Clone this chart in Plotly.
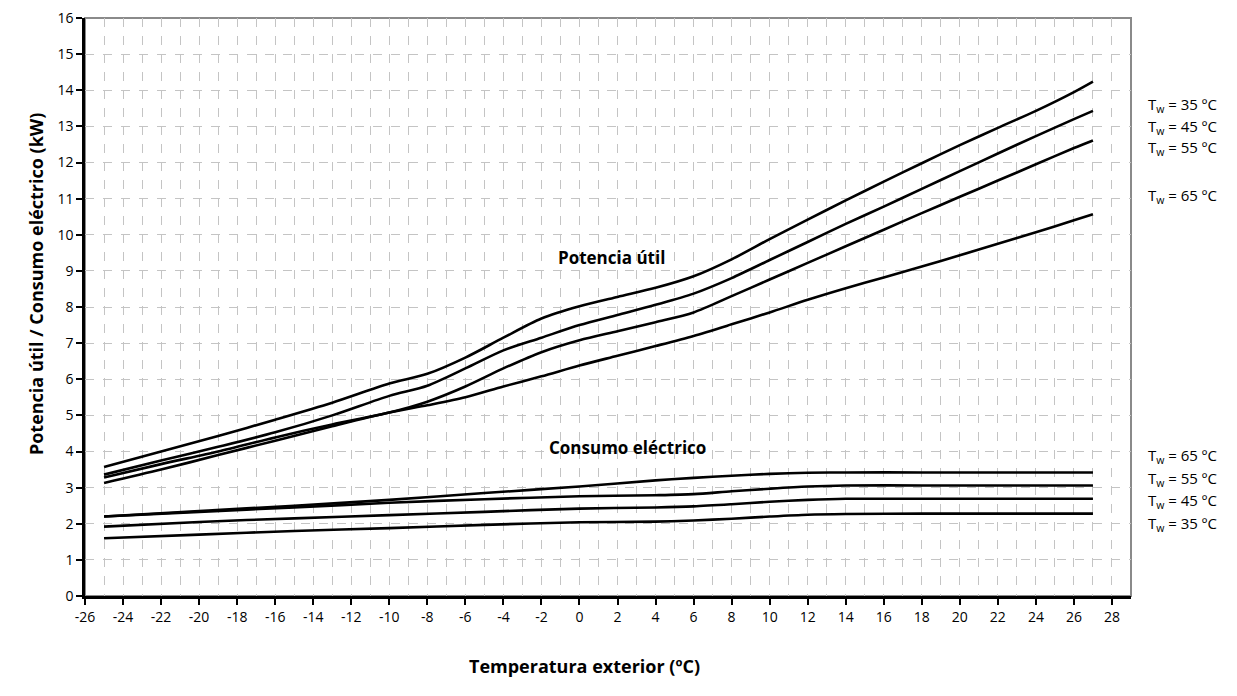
import plotly.graph_objects as go

# ---- data ----
x_pot = [-25, -22, -19, -16, -13, -10, -8, -6, -4, -2, 0, 2, 4, 6, 8, 10, 12, 14, 16, 18, 20, 22, 24, 26, 27]
pot_35 = [3.57, 4.0, 4.43, 4.88, 5.35, 5.88, 6.15, 6.6, 7.15, 7.68, 8.02, 8.28, 8.53, 8.85, 9.32, 9.88, 10.42, 10.95, 11.47, 11.98, 12.48, 12.96, 13.43, 13.95, 14.24]
pot_45 = [3.36, 3.75, 4.13, 4.53, 5.0, 5.54, 5.82, 6.3, 6.8, 7.15, 7.5, 7.78, 8.06, 8.37, 8.8, 9.3, 9.8, 10.3, 10.78, 11.27, 11.76, 12.25, 12.73, 13.2, 13.43]
pot_55 = [3.28, 3.65, 4.0, 4.39, 4.75, 5.08, 5.38, 5.8, 6.3, 6.75, 7.08, 7.33, 7.58, 7.85, 8.3, 8.76, 9.22, 9.68, 10.14, 10.6, 11.05, 11.5, 11.95, 12.4, 12.61]
pot_65 = [3.13, 3.5, 3.9, 4.3, 4.7, 5.08, 5.28, 5.5, 5.8, 6.08, 6.38, 6.65, 6.92, 7.2, 7.52, 7.85, 8.2, 8.52, 8.82, 9.12, 9.43, 9.75, 10.07, 10.4, 10.57]

x_cons = [-25, -20, -15, -10, -5, 0, 4, 6, 8, 10, 12, 14, 18, 22, 27]
cons_65 = [2.2, 2.35, 2.5, 2.66, 2.85, 3.03, 3.2, 3.27, 3.33, 3.38, 3.41, 3.42, 3.42, 3.42, 3.42]
cons_55 = [2.2, 2.33, 2.45, 2.58, 2.68, 2.76, 2.79, 2.82, 2.9, 2.97, 3.03, 3.06, 3.06, 3.06, 3.06]
cons_45 = [1.92, 2.05, 2.15, 2.24, 2.33, 2.42, 2.45, 2.48, 2.54, 2.61, 2.66, 2.69, 2.69, 2.69, 2.69]
cons_35 = [1.6, 1.7, 1.8, 1.88, 1.97, 2.04, 2.06, 2.09, 2.14, 2.2, 2.25, 2.27, 2.28, 2.28, 2.28]

pot_labels = ["T<sub>w</sub> = 35 ºC", "T<sub>w</sub> = 45 ºC", "T<sub>w</sub> = 55 ºC", "T<sub>w</sub> = 65 ºC"]
pot_label_y = [13.6, 12.97, 12.4, 11.07]
cons_labels = ["T<sub>w</sub> = 65 ºC", "T<sub>w</sub> = 55 ºC", "T<sub>w</sub> = 45 ºC", "T<sub>w</sub> = 35 ºC"]
cons_label_y = [3.88, 3.25, 2.62, 2.0]

x_ticks = list(range(-26, 29, 2))
x_ticktext = [str(v) for v in x_ticks]
y_ticks = list(range(0, 17, 1))

FONT = "Open Sans"

fig = go.Figure()
for xs, ys in [(x_pot, pot_35), (x_pot, pot_45), (x_pot, pot_55), (x_pot, pot_65),
               (x_cons, cons_65), (x_cons, cons_55), (x_cons, cons_45), (x_cons, cons_35)]:
    fig.add_trace(go.Scatter(x=xs, y=ys, mode="lines",
                             line=dict(color="black", width=2.6, shape="spline", smoothing=0.8),
                             showlegend=False, hoverinfo="skip"))

grid_style = dict(gridcolor="#c4c4c4", gridwidth=1, griddash="9px,9px")

fig.update_xaxes(range=[-26, 29], tickmode="array", tickvals=x_ticks, ticktext=x_ticktext,
                 ticks="outside", ticklen=6, tickwidth=2, tickcolor="black",
                 showline=True, linecolor="black", linewidth=2.5,
                 showgrid=True, **grid_style,
                 minor=dict(dtick=1, tick0=-26, showgrid=True, gridcolor="#c4c4c4", gridwidth=1, griddash="9px,9px"),
                 zeroline=False, automargin=False, ticklabeloverflow="allow",
                 tickfont=dict(family=FONT, size=14, color="black"))
fig.update_yaxes(range=[0, 16], tickmode="array", tickvals=y_ticks,
                 ticks="outside", ticklen=6, tickwidth=2, tickcolor="black",
                 showline=True, linecolor="black", linewidth=2.5,
                 showgrid=True, **grid_style, zeroline=False, automargin=False,
                 ticklabeloverflow="allow",
                 tickfont=dict(family=FONT, size=14, color="black"))

fig.add_shape(type="rect", xref="paper", yref="paper", x0=0, x1=1, y0=0, y1=1,
              line=dict(color="#8a8a8a", width=2), layer="below")

annotations = []
annotations.append(dict(x=0.478, y=-0.1446, xref="paper", yref="paper", text="<b>Temperatura exterior (ºC)</b>",
                        showarrow=False, font=dict(family=FONT, size=18, color="black")))
annotations.append(dict(x=-0.060, y=0.54, xref="paper", yref="paper", textangle=-90,
                        text="<b>Potencia útil / Consumo eléctrico (kW)</b>",
                        showarrow=False, font=dict(family=FONT, size=18, color="black")))
annotations.append(dict(x=1.7, y=9.37, xref="x", yref="y", text="<b>Potencia útil</b>", showarrow=False,
                        font=dict(family=FONT, size=17, color="black")))
annotations.append(dict(x=2.5, y=4.1, xref="x", yref="y", text="<b>Consumo eléctrico</b>", showarrow=False,
                        font=dict(family=FONT, size=17, color="black")))
for t, yv in zip(pot_labels + cons_labels, pot_label_y + cons_label_y):
    annotations.append(dict(x=1.014, y=yv, xref="paper", yref="y", text=t, showarrow=False,
                            xanchor="left", font=dict(family=FONT, size=15, color="black")))
fig.update_layout(annotations=annotations)

# page body adds an 8px offset, so margins are reduced by 8px on left/top
fig.update_layout(width=1229, height=688, margin=dict(l=77, r=106, t=10, b=100),
                  plot_bgcolor="white", paper_bgcolor="white",
                  font=dict(family=FONT, color="black"))

fig.write_html("out.html")
